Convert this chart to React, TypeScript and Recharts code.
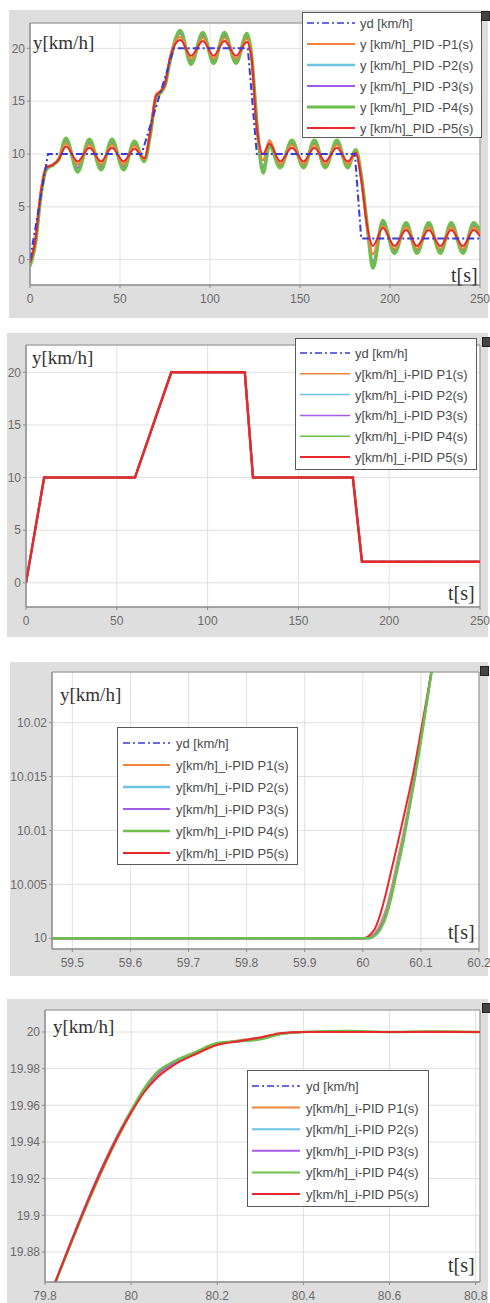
import React from 'react';
import { LineChart, Line, XAxis, YAxis, CartesianGrid, ReferenceArea } from 'recharts';

// ---------------- Panel 1 data (PID, oscillating) ----------------
const p1Time = [0, 3, 6, 9, 13, 16, 20, 26.5, 33, 39.5, 45.5, 52, 58, 63.5, 67, 70, 72.5, 75, 78, 83.5, 89.5, 96, 102, 108, 114.5, 120.5, 123, 126, 129.5, 133, 139, 145.5, 152, 158, 164, 170.5, 176.5, 181, 184, 187.5, 190.5, 196, 202.5, 209, 215, 221.5, 228, 234, 240.5, 246.5, 250];
const p1P1 = [-0.2, 2.0, 6.5, 8.8, 9.0, 9.6, 11.0, 9.0, 10.9, 9.0, 10.9, 9.0, 10.8, 9.5, 12.4, 15.6, 16.0, 16.7, 19.3, 21.1, 19.0, 21.0, 19.0, 21.0, 19.0, 20.9, 19.3, 12.6, 9.4, 11.3, 9.0, 10.9, 9.0, 10.9, 9.0, 10.9, 9.0, 10.2, 7.7, 2.8, 0.5, 3.2, 1.0, 3.1, 1.0, 3.1, 1.0, 3.1, 1.0, 3.1, 2.4];
const p1P2 = [-0.5, 1.6, 6.1, 8.6, 9.0, 9.5, 11.3, 8.6, 11.2, 8.7, 11.2, 8.7, 11.0, 9.4, 12.1, 15.4, 15.8, 16.5, 19.1, 21.5, 18.7, 21.3, 18.8, 21.3, 18.8, 21.2, 19.4, 12.8, 8.6, 10.9, 8.9, 11.1, 8.9, 11.1, 8.9, 11.1, 8.9, 10.3, 7.9, 2.9, -0.4, 3.5, 0.8, 3.3, 0.8, 3.3, 0.8, 3.3, 0.8, 3.3, 2.5];
const p1P3 = [-0.4, 1.7, 6.2, 8.6, 9.0, 9.5, 11.2, 8.7, 11.1, 8.8, 11.1, 8.8, 10.9, 9.4, 12.2, 15.4, 15.9, 16.5, 19.1, 21.4, 18.8, 21.2, 18.9, 21.2, 18.9, 21.1, 19.4, 12.7, 8.8, 10.9, 9.0, 11.0, 9.0, 11.0, 9.0, 11.0, 9.0, 10.3, 7.8, 2.9, -0.2, 3.4, 0.9, 3.2, 0.9, 3.2, 0.9, 3.2, 0.9, 3.2, 2.5];
const p1P4 = [-0.6, 1.5, 6.0, 8.5, 9.0, 9.5, 11.5, 8.3, 11.4, 8.5, 11.4, 8.5, 11.2, 9.3, 12.0, 15.3, 15.8, 16.5, 19.0, 21.7, 18.5, 21.5, 18.6, 21.5, 18.6, 21.4, 19.5, 13.0, 8.2, 10.8, 8.7, 11.3, 8.7, 11.3, 8.7, 11.3, 8.7, 10.4, 8.0, 3.0, -0.8, 3.7, 0.6, 3.5, 0.6, 3.5, 0.6, 3.5, 0.6, 3.5, 2.6];
const p1P5 = [-0.3, 1.8, 6.3, 8.7, 9.0, 9.5, 10.7, 9.3, 10.6, 9.3, 10.6, 9.3, 10.5, 9.6, 12.3, 15.5, 15.9, 16.6, 19.2, 20.8, 19.3, 20.7, 19.3, 20.7, 19.3, 20.6, 19.2, 12.5, 10.0, 11.0, 9.3, 10.6, 9.3, 10.6, 9.3, 10.6, 9.3, 10.1, 7.6, 3.0, 1.3, 3.0, 1.3, 2.8, 1.3, 2.8, 1.3, 2.8, 1.3, 2.8, 2.2];
const p1RefTime = [0, 10, 62, 80, 121, 126, 180.5, 184, 250];
const p1RefValues = [0, 10, 10, 20, 20, 10, 10, 2, 2];
const p1XTicks = [0, 50, 100, 150, 200, 250];
const p1YTicks = [0, 5, 10, 15, 20];

// ---------------- Panel 2 data (i-PID, full run) ----------------
const p2Time = [0, 10, 60, 80, 120.5, 125, 180, 185, 250];
const p2RefValues = [0, 10, 10, 20, 20, 10, 10, 2, 2];
const p2P1 = [0, 10, 10, 20, 20, 10, 10, 2, 2];
const p2P2 = [0, 10, 10, 20, 20, 10, 10, 2, 2];
const p2P3 = [0, 10, 10, 20, 20, 10, 10, 2, 2];
const p2P4 = [0, 10, 10, 20, 20, 10, 10, 2, 2];
const p2P5 = [0, 10, 10, 20, 20, 10, 10, 2, 2];
const p2XTicks = [0, 50, 100, 150, 200, 250];
const p2YTicks = [0, 5, 10, 15, 20];

// ---------------- Panel 3 data (zoom near t = 60 s) ----------------
const p3Time = [59.465, 59.8, 60.0, 60.01, 60.02, 60.03, 60.04, 60.05, 60.06, 60.07, 60.08, 60.09, 60.1, 60.11, 60.12, 60.13];
const p3P1 = [10, 10, 10, 10.0001, 10.0004, 10.0013, 10.0027, 10.0048, 10.0073, 10.0098, 10.0126, 10.0155, 10.0187, 10.022, 10.0254, 10.029];
const p3P2 = [10, 10, 10, 10, 10.0003, 10.001, 10.0023, 10.0043, 10.0068, 10.0093, 10.0122, 10.0152, 10.0185, 10.0219, 10.0254, 10.029];
const p3P3 = [10, 10, 10, 10, 10.0003, 10.001, 10.0022, 10.0042, 10.0067, 10.0092, 10.0121, 10.0151, 10.0184, 10.0219, 10.0254, 10.029];
const p3P4 = [10, 10, 10, 10, 10.0002, 10.0008, 10.002, 10.004, 10.0065, 10.009, 10.012, 10.015, 10.0183, 10.0218, 10.0253, 10.029];
const p3P5 = [10, 10, 10, 10.0002, 10.0008, 10.0022, 10.0042, 10.0065, 10.0088, 10.0112, 10.0136, 10.0162, 10.0192, 10.0222, 10.0253, 10.0285];
const p3RefTime = [59.465, 60.0];
const p3RefValues = [10, 10];
const p3XTicks = [59.5, 59.6, 59.7, 59.8, 59.9, 60, 60.1, 60.2];
const p3YTicks = [10, 10.005, 10.01, 10.015, 10.02];

// ---------------- Panel 4 data (zoom near t = 80 s) ----------------
const p4Time = [79.8, 80.0, 80.03, 80.06, 80.1, 80.15, 80.2, 80.25, 80.3, 80.35, 80.4, 80.5, 80.6, 80.7, 80.81];
const p4P1 = [19.849, 19.956, 19.968, 19.976, 19.983, 19.988, 19.993, 19.9955, 19.997, 19.999, 20.0, 20.0003, 20.0, 20.0004, 20.0];
const p4P2 = [19.849, 19.957, 19.968, 19.977, 19.983, 19.989, 19.9935, 19.995, 19.9965, 19.999, 20.0, 20.0, 20.0, 20.0, 20.0];
const p4P3 = [19.849, 19.957, 19.968, 19.977, 19.983, 19.989, 19.9935, 19.995, 19.9965, 19.999, 20.0, 20.0, 20.0, 20.0, 20.0];
const p4P4 = [19.849, 19.957, 19.969, 19.978, 19.984, 19.989, 19.994, 19.995, 19.996, 19.999, 20.0, 20.0005, 20.0, 20.0003, 20.0];
const p4P5 = [19.849, 19.956, 19.967, 19.975, 19.982, 19.988, 19.993, 19.995, 19.997, 19.9995, 20.0, 20.0, 20.0, 20.0, 20.0];
const p4RefTime = [80.4, 80.81];
const p4RefValues = [20, 20];
const p4XTicks = [79.8, 80, 80.2, 80.4, 80.6, 80.8];
const p4YTicks = [19.88, 19.9, 19.92, 19.94, 19.96, 19.98, 20];

// ---------------- Legend labels ----------------
const pidNames = ['yd [km/h]', 'y [km/h]_PID -P1(s)', 'y [km/h]_PID -P2(s)', 'y [km/h]_PID -P3(s)', 'y [km/h]_PID -P4(s)', 'y [km/h]_PID -P5(s)'];
const ipidNames = ['yd [km/h]', 'y[km/h]_i-PID P1(s)', 'y[km/h]_i-PID P2(s)', 'y[km/h]_i-PID P3(s)', 'y[km/h]_i-PID P4(s)', 'y[km/h]_i-PID P5(s)'];

// ---------------- styles ----------------
const COLORS = ['#3a3ad6', '#f0843a', '#6cc3e3', '#a45ce6', '#6cbf4a', '#e8282c'];
const DASH = '7 3 2 3';

type Pt = { t: number; y: number };
const zip = (ts: number[], ys: number[]): Pt[] => ts.map((t, i) => ({ t, y: ys[i] }));

type Series = { idx: number; pts: Pt[]; width: number };

type PanelCfg = {
  frame: { l: number; t: number; r: number; b: number };
  plot: { l: number; t: number; r: number; b: number };
  xDomain: [number, number];
  yDomain: [number, number];
  xTicks: number[];
  yTicks: number[];
  series: Series[]; // drawing order
  names: string[];
  legend: { l: number; t: number; w: number; h: number; row0: number; dy: number; lx1: number; lx2: number; tx: number; widths: number[] };
  yLabel: { x: number; y: number };
  tLabel: { x: number; y: number };
  icon: { x: number; y: number };
  curve: 'monotone' | 'linear';
};

const panels: PanelCfg[] = [
  {
    frame: { l: 9, t: 10, r: 488, b: 318 },
    plot: { l: 30, t: 23, r: 480, b: 285 },
    xDomain: [0, 250],
    yDomain: [-2.4, 22.4],
    xTicks: p1XTicks,
    yTicks: p1YTicks,
    series: [
      { idx: 1, pts: zip(p1Time, p1P1), width: 2 },
      { idx: 2, pts: zip(p1Time, p1P2), width: 2.5 },
      { idx: 3, pts: zip(p1Time, p1P3), width: 2 },
      { idx: 4, pts: zip(p1Time, p1P4), width: 3.5 },
      { idx: 1, pts: zip(p1Time, p1P1), width: 2 },
      { idx: 5, pts: zip(p1Time, p1P5), width: 2 },
      { idx: 0, pts: zip(p1RefTime, p1RefValues), width: 2 },
    ],
    names: pidNames,
    legend: { l: 302, t: 12, w: 180, h: 126, row0: 11, dy: 21, lx1: 5, lx2: 53, tx: 58, widths: [1.5, 2, 2.5, 2, 3, 2] },
    yLabel: { x: 33, y: 43 },
    tLabel: { x: 451, y: 275 },
    icon: { x: 481, y: 11 },
    curve: 'monotone',
  },
  {
    frame: { l: 7, t: 333, r: 488, b: 637 },
    plot: { l: 26, t: 345, r: 480, b: 607 },
    xDomain: [0, 250],
    yDomain: [-2.3, 22.6],
    xTicks: p2XTicks,
    yTicks: p2YTicks,
    series: [
      { idx: 0, pts: zip(p2Time, p2RefValues), width: 2 },
      { idx: 1, pts: zip(p2Time, p2P1), width: 2 },
      { idx: 2, pts: zip(p2Time, p2P2), width: 2 },
      { idx: 3, pts: zip(p2Time, p2P3), width: 2 },
      { idx: 4, pts: zip(p2Time, p2P4), width: 2 },
      { idx: 5, pts: zip(p2Time, p2P5), width: 2.5 },
    ],
    names: ipidNames,
    legend: { l: 295, t: 338, w: 182, h: 132, row0: 15, dy: 20.8, lx1: 5, lx2: 55, tx: 60, widths: [1.5, 1.5, 1.5, 1.5, 1.5, 2] },
    yLabel: { x: 32, y: 358 },
    tLabel: { x: 448, y: 593 },
    icon: { x: 482, y: 337 },
    curve: 'linear',
  },
  {
    frame: { l: 10, t: 662, r: 488, b: 976 },
    plot: { l: 52, t: 672, r: 479, b: 949 },
    xDomain: [59.465, 60.2],
    yDomain: [9.999, 10.0247],
    xTicks: p3XTicks,
    yTicks: p3YTicks,
    series: [
      { idx: 0, pts: zip(p3RefTime, p3RefValues), width: 2 },
      { idx: 1, pts: zip(p3Time, p3P1), width: 2 },
      { idx: 2, pts: zip(p3Time, p3P2), width: 2.5 },
      { idx: 3, pts: zip(p3Time, p3P3), width: 2 },
      { idx: 5, pts: zip(p3Time, p3P5), width: 2 },
      { idx: 4, pts: zip(p3Time, p3P4), width: 2.5 },
    ],
    names: ipidNames,
    legend: { l: 117, t: 727, w: 181, h: 138, row0: 16, dy: 22, lx1: 6, lx2: 53, tx: 59, widths: [1.5, 2, 2.5, 2, 2.5, 2] },
    yLabel: { x: 60, y: 695 },
    tLabel: { x: 448, y: 932 },
    icon: { x: 480, y: 666 },
    curve: 'monotone',
  },
  {
    frame: { l: 7, t: 999, r: 488, b: 1303 },
    plot: { l: 45, t: 1010, r: 480, b: 1282 },
    xDomain: [79.8, 80.81],
    yDomain: [19.8636, 20.012],
    xTicks: p4XTicks,
    yTicks: p4YTicks,
    series: [
      { idx: 0, pts: zip(p4RefTime, p4RefValues), width: 2 },
      { idx: 1, pts: zip(p4Time, p4P1), width: 2 },
      { idx: 2, pts: zip(p4Time, p4P2), width: 2 },
      { idx: 3, pts: zip(p4Time, p4P3), width: 2 },
      { idx: 4, pts: zip(p4Time, p4P4), width: 2.5 },
      { idx: 5, pts: zip(p4Time, p4P5), width: 2 },
    ],
    names: ipidNames,
    legend: { l: 247, t: 1070, w: 182, h: 137, row0: 16, dy: 21.6, lx1: 5, lx2: 53, tx: 59, widths: [1.5, 2, 2, 2, 2, 2] },
    yLabel: { x: 53, y: 1027 },
    tLabel: { x: 448, y: 1265 },
    icon: { x: 482, y: 1003 },
    curve: 'monotone',
  },
];

const tickStyle = { fontSize: 12, fill: '#6a6a6a', fontFamily: '"Liberation Sans", Arial, sans-serif' };

function LegendBox({ cfg }: { cfg: PanelCfg }) {
  const L = cfg.legend;
  return (
    <div
      style={{
        position: 'absolute',
        left: L.l,
        top: L.t,
        width: L.w,
        height: L.h,
        background: '#fff',
        border: '1px solid #5a5a5a',
        boxSizing: 'border-box',
      }}
    >
      <svg width={L.w} height={L.h} style={{ position: 'absolute', left: -1, top: -1 }}>
        {cfg.names.map((n, i) => (
          <line
            key={n}
            x1={L.lx1}
            x2={L.lx2}
            y1={L.row0 + i * L.dy}
            y2={L.row0 + i * L.dy}
            stroke={COLORS[i]}
            strokeWidth={L.widths[i]}
            strokeDasharray={i === 0 ? DASH : undefined}
          />
        ))}
      </svg>
      {cfg.names.map((n, i) => (
        <div
          key={n}
          style={{
            position: 'absolute',
            left: L.tx - 1,
            top: L.row0 + i * L.dy - 9,
            height: 18,
            lineHeight: '18px',
            fontSize: 13,
            color: '#4a4a4a',
            fontFamily: '"Liberation Sans", Arial, sans-serif',
            whiteSpace: 'nowrap',
          }}
        >
          {n}
        </div>
      ))}
    </div>
  );
}

function Panel({ cfg }: { cfg: PanelCfg }) {
  const { frame, plot } = cfg;
  const chartH = frame.b - frame.t;
  return (
    <>
      <div
        style={{
          position: 'absolute',
          left: frame.l,
          top: frame.t,
          width: frame.r - frame.l,
          height: frame.b - frame.t,
          background: '#dedede',
        }}
      />
      <div style={{ position: 'absolute', left: 0, top: frame.t }}>
        <LineChart
          width={490}
          height={chartH}
          margin={{ top: plot.t - frame.t, right: 490 - plot.r, bottom: 0, left: 0 }}
        >
          <CartesianGrid stroke="#e0e0e0" fill="#ffffff" />
          <XAxis
            type="number"
            dataKey="t"
            domain={cfg.xDomain}
            ticks={cfg.xTicks}
            allowDataOverflow
            height={frame.b - plot.b}
            tick={tickStyle}
            tickSize={3}
            tickMargin={6}
            axisLine={{ stroke: '#8c8c8c' }}
            tickLine={{ stroke: '#8c8c8c' }}
          />
          <YAxis
            type="number"
            domain={cfg.yDomain}
            ticks={cfg.yTicks}
            allowDataOverflow
            width={plot.l}
            tick={tickStyle}
            tickSize={3}
            tickMargin={2}
            axisLine={{ stroke: '#8c8c8c' }}
            tickLine={{ stroke: '#8c8c8c' }}
          />
          <ReferenceArea
            x1={cfg.xDomain[0]}
            x2={cfg.xDomain[1]}
            y1={cfg.yDomain[0]}
            y2={cfg.yDomain[1]}
            fill="none"
            fillOpacity={0}
            stroke="#8c8c8c"
            strokeWidth={1}
          />
          {cfg.series.map((s, k) => (
            <Line
              key={k}
              data={s.pts}
              dataKey="y"
              type={s.idx === 0 ? 'linear' : cfg.curve}
              stroke={COLORS[s.idx]}
              strokeWidth={s.width}
              strokeDasharray={s.idx === 0 ? DASH : undefined}
              dot={false}
              activeDot={false}
              isAnimationActive={false}
              name={cfg.names[s.idx]}
            />
          ))}
        </LineChart>
      </div>
      <LegendBox cfg={cfg} />
      <div
        style={{
          position: 'absolute',
          left: cfg.yLabel.x,
          top: cfg.yLabel.y - 12,
          height: 24,
          lineHeight: '24px',
          fontSize: 19,
          color: '#333',
          fontFamily: '"Liberation Serif", "Times New Roman", serif',
          whiteSpace: 'nowrap',
        }}
      >
        y[km/h]
      </div>
      <div
        style={{
          position: 'absolute',
          left: cfg.tLabel.x,
          top: cfg.tLabel.y - 13,
          height: 26,
          lineHeight: '26px',
          fontSize: 20,
          color: '#333',
          fontFamily: '"Liberation Serif", "Times New Roman", serif',
          whiteSpace: 'nowrap',
        }}
      >
        t[s]
      </div>
      <div
        style={{
          position: 'absolute',
          left: cfg.icon.x,
          top: cfg.icon.y,
          width: 7,
          height: 8,
          background: '#444',
          border: '1px solid #222',
        }}
      />
    </>
  );
}

export default function App() {
  return (
    <div style={{ position: 'absolute', left: 0, top: 0, width: 490, height: 1303, background: '#fff', overflow: 'hidden' }}>
      {panels.map((p, i) => (
        <Panel key={i} cfg={p} />
      ))}
    </div>
  );
}
